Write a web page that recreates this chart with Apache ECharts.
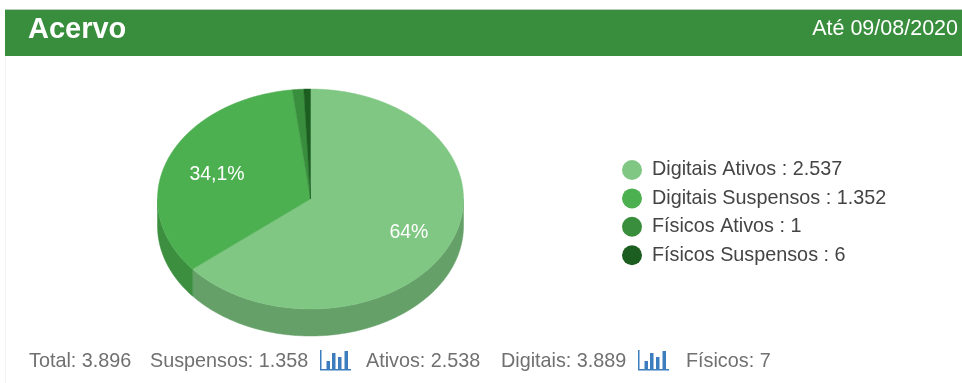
<!DOCTYPE html>
<html>
<head>
<meta charset="utf-8">
<style>
html,body{margin:0;padding:0;background:#fff;}
#chart{width:962px;height:383px;}
</style>
<script src="https://cdn.jsdelivr.net/npm/echarts@6/dist/echarts.min.js"></script>
</head>
<body>
<div id="chart"></div>
<script>
// Collection breakdown
const categories = ['Digitais Ativos', 'Digitais Suspensos', 'Físicos Ativos', 'Físicos Suspensos'];
const counts = ['2.537', '1.352', '1', '6'];
const shares = [64, 34.1, 1.2, 0.7];
const faceColors = ['#81C784', '#4CAF50', '#388E3C', '#1B5E20'];
const wallColors = ['#64A068', '#3B8F3F', '#2C7430', '#134A17'];
const footerTexts = ['Total: 3.896', 'Suspensos: 1.358', 'Ativos: 2.538', 'Digitais: 3.889', 'Físicos: 7'];
const footerLefts = [29, 150, 366, 501, 686];
const iconLefts = [320, 638];

// Tilted-pie geometry
const CX = 310.5, CY = 199, RX = 153, RY = 110, DEPTH = 27, LABEL_RADIUS = 0.7;
const labelNudges = [[1.5, 0.5], [6, 4.5]];
const totalShare = shares.reduce((a, b) => a + b, 0);

// Angles run clockwise from twelve o'clock
const pointAt = (deg, dy = 0, k = 1) => {
  const a = deg * Math.PI / 180;
  return [CX + k * RX * Math.sin(a), CY - k * RY * Math.cos(a) + dy];
};
const arc = (from, to, dy = 0) => {
  const steps = Math.max(2, Math.ceil((to - from) * 2));
  const pts = [];
  for (let i = 0; i <= steps; i++) pts.push(pointAt(from + (to - from) * i / steps, dy));
  return pts;
};

const sliceSeries = categories.map((name, idx) => {
  const before = shares.slice(0, idx).reduce((a, b) => a + b, 0);
  const start = before / totalShare * 360;
  const end = (before + shares[idx]) / totalShare * 360;
  return {
    type: 'custom',
    name,
    coordinateSystem: 'none',
    silent: true,
    itemStyle: { color: faceColors[idx] },
    data: [shares[idx]],
    renderItem() {
      const children = [];
      // The wall only shows on the front half of the ellipse
      const wallFrom = Math.max(start, 90), wallTo = Math.min(end, 270);
      if (wallTo > wallFrom) {
        children.push({
          type: 'polygon',
          shape: { points: arc(wallFrom, wallTo).concat(arc(wallFrom, wallTo, DEPTH).reverse()) },
          style: { fill: wallColors[idx], stroke: wallColors[idx], lineWidth: 0.5 }
        });
      }
      children.push({
        type: 'polygon',
        shape: { points: [[CX, CY]].concat(arc(start, end)) },
        style: { fill: faceColors[idx], stroke: faceColors[idx], lineWidth: 0.5 }
      });
      if (shares[idx] >= 5) {
        const p = pointAt((start + end) / 2, 0, LABEL_RADIUS);
        children.push({
          type: 'text',
          z2: 10,
          style: {
            x: p[0] + labelNudges[idx][0], y: p[1] + labelNudges[idx][1],
            text: String(shares[idx]).replace('.', ',') + '%',
            fill: '#fff',
            font: '19.5px "Liberation Sans", Arial, sans-serif',
            align: 'center',
            verticalAlign: 'middle'
          }
        });
      }
      return { type: 'group', children };
    }
  };
});

// Small bar-chart glyph shown beside two footer figures
const barIcon = left => ({
  type: 'group',
  x: left,
  y: 350,
  children: [
    [0, 0, 1.5, 20], [6.5, 11, 3.5, 8], [12, 3, 3.5, 16], [18, 7, 3.5, 12], [24.5, 1, 3.5, 18], [0, 19, 31, 1.5]
  ].map(r => ({
    type: 'rect',
    shape: { x: r[0], y: r[1], width: r[2], height: r[3] },
    style: { fill: '#3C7DBE' }
  }))
});

const chart = echarts.init(document.getElementById('chart'), null, { renderer: 'canvas' });
chart.setOption({
  animation: false,
  backgroundColor: '#fff',
  legend: {
    orient: 'vertical',
    left: 617,
    top: 155,
    itemWidth: 20,
    itemHeight: 20,
    itemGap: 8.4,
    icon: 'circle',
    selectedMode: false,
    data: categories,
    formatter: name => name + ' : ' + counts[categories.indexOf(name)],
    textStyle: {
      color: '#444',
      fontSize: 19.8,
      fontFamily: '"Liberation Sans", Arial, sans-serif',
      padding: [0, 0, 0, 5]
    }
  },
  series: sliceSeries,
  graphic: [
    { type: 'rect', shape: { x: 5, y: 9, width: 957, height: 1 }, style: { fill: '#B9CDBA' } },
    { type: 'rect', shape: { x: 5, y: 10, width: 957, height: 46 }, style: { fill: '#388E3C' } },
    { type: 'rect', shape: { x: 5, y: 56, width: 1, height: 327 }, style: { fill: '#F3F3F3' } },
    {
      type: 'text', x: 28, y: 30,
      style: { text: 'Acervo', fill: '#fff', font: 'bold 29px "Liberation Sans", Arial, sans-serif', verticalAlign: 'middle' }
    },
    {
      type: 'text', x: 958, y: 29,
      style: { text: 'Até 09/08/2020', fill: '#fff', font: '21.5px "Liberation Sans", Arial, sans-serif', align: 'right', verticalAlign: 'middle' }
    },
    ...footerTexts.map((text, i) => ({
      type: 'text', x: footerLefts[i], y: 362,
      style: { text, fill: '#707070', font: '19.8px "Liberation Sans", Arial, sans-serif', verticalAlign: 'middle' }
    })),
    ...iconLefts.map(barIcon)
  ]
});
</script>
</body>
</html>
